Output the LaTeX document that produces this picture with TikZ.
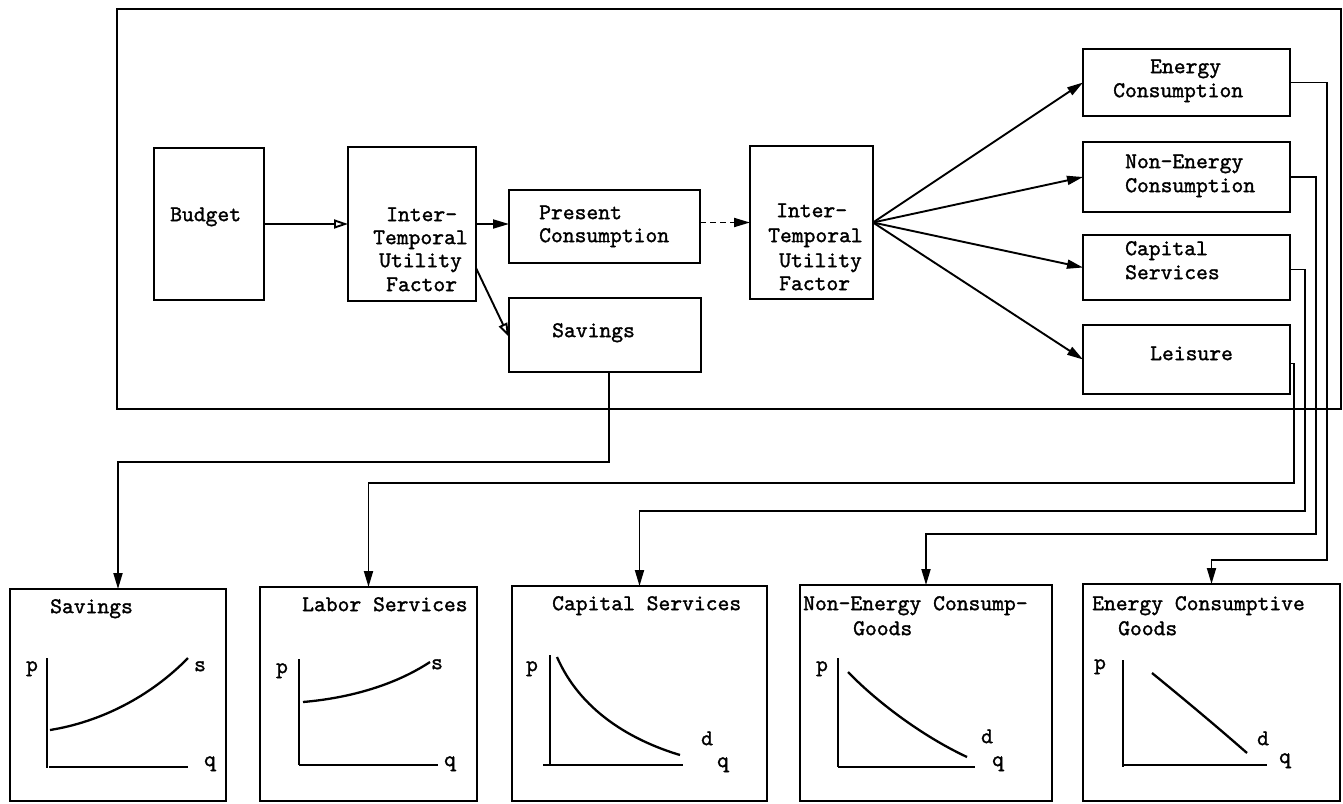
\documentclass[tikz,border=0pt]{standalone}
\usepackage{fontspec}
\usetikzlibrary{arrows.meta,calc}
% typewriter face, slightly emboldened
\newfontfamily\typer{lmmono10-regular.otf}[FakeBold=1.4]
\begin{document}
\begin{tikzpicture}[x=1pt,y=-1pt,
  box/.style={draw, line width=2.8pt, inner sep=0pt, outer sep=0pt},
  lbl/.style={font=\fontsize{22.5}{24}\selectfont\typer, inner sep=0pt, anchor=mid west},
  axlbl/.style={font=\fontsize{22.5}{24}\selectfont\typer, inner sep=0pt, anchor=mid},
  conn/.style={line width=1.9pt},
  tip/.style={conn, -{Triangle[length=16pt,width=9pt]}},
  otip/.style={conn, -{Triangle[open,length=14pt,width=9pt]}},
  axisline/.style={line width=2.3pt},
  demand/.style={line width=2.3pt},
]
\useasboundingbox (0,0) rectangle (1343,803);
\fill[white] (0,0) rectangle (1343,803);

% household sector frame
\draw[line width=2.5pt] (117,9) rectangle (1341,409);

% ---- upper blocks ----
\node[box, minimum width=110pt, minimum height=152pt] (budget) at (209,224) {};
\node[box, minimum width=128pt, minimum height=154pt] (itu1) at (412,224) {};
\node[box, minimum width=191pt, minimum height=73pt] (pres) at (604.5,226.5) {};
\node[box, minimum width=192pt, minimum height=74pt] (sav) at (605,335) {};
\node[box, minimum width=123pt, minimum height=153pt] (itu2) at (811.5,222.5) {};
\node[box, minimum width=207pt, minimum height=67pt] (ec) at (1186.5,82.5) {};
\node[box, minimum width=207pt, minimum height=70pt] (ne) at (1186.5,177) {};
\node[box, minimum width=207pt, minimum height=65pt] (cs) at (1186.5,267.5) {};
\node[box, minimum width=207pt, minimum height=69pt] (le) at (1186.5,359.5) {};

\node[lbl] (tbud) at (170,219) {Budget};
\node[lbl] (ta1) at (386,219) {Inter-};
\node[lbl] (ta2) at (373,242) {Temporal};
\node[lbl] (ta3) at (379,265) {Utility};
\node[lbl] (ta4) at (386,289) {Factor};
\node[lbl] (tp1) at (539,217) {Present};
\node[lbl] (tp2) at (539,240) {Consumption};
\node[lbl] (tsav) at (552,335) {Savings};
\node[lbl] (tb1) at (776,215) {Inter-};
\node[lbl] (tb2) at (768,240) {Temporal};
\node[lbl] (tb3) at (779,265) {Utility};
\node[lbl] (tb4) at (779,288) {Factor};
\node[lbl] (te1) at (1150,71) {Energy};
\node[lbl] (te2) at (1113,95) {Consumption};
\node[lbl] (tn1) at (1125,166) {Non-Energy};
\node[lbl] (tn2) at (1125,190) {Consumption};
\node[lbl] (tc1) at (1125,253) {Capital};
\node[lbl] (tc2) at (1125,277) {Services};
\node[lbl] (tl1) at (1150,358) {Leisure};

% ---- flows inside the sector ----
\draw[otip] (budget.east) -- (itu1.west);
\draw[tip] (itu1.east) -- (itu1.east -| pres.west);
\draw[otip] ([yshift=-44pt]itu1.east) -- ([yshift=-2pt]sav.west);
\draw[tip, dash pattern=on 6pt off 4pt] (pres.east |- itu2.west) -- (itu2.west);
\draw[tip] (itu2.east) -- (ec.west);
\draw[tip] (itu2.east) -- (ne.west);
\draw[tip] (itu2.east) -- (cs.west);
\draw[tip] (itu2.east) -- (le.west);

% ---- market panels ----
\node[box, minimum width=216pt, minimum height=212pt] (g1) at (118,695) {};
\node[box, minimum width=217pt, minimum height=214pt] (g2) at (368.5,694) {};
\node[box, minimum width=255pt, minimum height=215pt] (g3) at (639.5,693.5) {};
\node[box, minimum width=252pt, minimum height=216pt] (g4) at (926,693) {};
\node[box, minimum width=257pt, minimum height=217pt] (g5) at (1211.5,692.5) {};

% ---- links to the markets ----
\draw[tip] ([xshift=4pt]sav.south) -- ++(0,90) -| (g1.north);
\coordinate (lbend) at (1294,483);
\coordinate (cbend) at (1305,511);
\coordinate (nbend) at (1316,534);
\coordinate (ebend) at (1327,560);
\draw[tip] ([yshift=-4pt]le.east) -| (lbend) -| (g2.north);
\draw[tip] ([yshift=-2pt]cs.east) -| (cbend) -| (g3.north);
\draw[tip] (ne.east) -| (nbend) -| (g4.north);
\draw[tip] (ec.east) -| (ebend) -| (g5.north);

% savings supply
\node[lbl] (h1) at (50,611) {Savings};
\draw[axisline] (47,658) -- (47,768);
\draw[axisline] (49,767) -- (188,767);
\draw[demand] (50,730) .. controls (100,722) and (150,697) .. (188,658);
\node[axlbl] (p1) at (32,669) {p};
\node[axlbl] (s1) at (200,669) {s};
\node[axlbl] (q1) at (210,764) {q};

% labor supply
\node[lbl] (h2) at (302,609) {Labor Services};
\draw[axisline] (299,659) -- (299,765);
\draw[axisline] (299,765) -- (438,765);
\draw[demand] (303,702) .. controls (350,698) and (395,685) .. (430,662);
\node[axlbl] (p2) at (282,671) {p};
\node[axlbl] (s2) at (437,667) {s};
\node[axlbl] (q2) at (450,764) {q};

% capital services demand
\node[lbl] (h3) at (552,608) {Capital Services};
\draw[axisline] (550,655) -- (550,765);
\draw[axisline] (543,765) -- (683,765);
\draw[demand] (557,657) .. controls (580,710) and (630,740) .. (680,755);
\node[axlbl] (p3) at (532,669) {p};
\node[axlbl] (d3) at (707,743) {d};
\node[axlbl] (q3) at (723,765) {q};

% non-energy goods demand
\node[lbl] (h4a) at (803,608) {Non-Energy Consump-};
\node[lbl] (h4b) at (853,633) {Goods};
\draw[axisline] (838,658) -- (838,767);
\draw[axisline] (838,767) -- (975,767);
\draw[demand] (848,672) .. controls (875,700) and (920,735) .. (967,757);
\node[axlbl] (p4) at (822,669) {p};
\node[axlbl] (d4) at (987,741) {d};
\node[axlbl] (q4) at (998,764) {q};

% energy goods demand
\node[lbl] (h5a) at (1092,608) {Energy Consumptive};
\node[lbl] (h5b) at (1118,633) {Goods};
\draw[axisline] (1123,660) -- (1123,767);
\draw[axisline] (1123,765) -- (1267,765);
\draw[demand] (1152,673) .. controls (1185,700) and (1215,725) .. (1247,753);
\node[axlbl] (p5) at (1100,667) {p};
\node[axlbl] (d5) at (1263,743) {d};
\node[axlbl] (q5) at (1285,761) {q};
\end{tikzpicture}
\end{document}
